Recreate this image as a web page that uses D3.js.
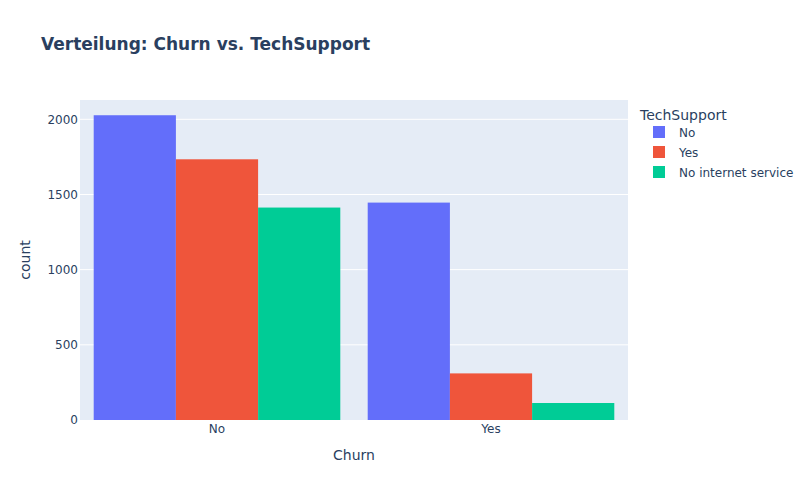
<!DOCTYPE html>
<html>
<head>
<meta charset="utf-8">
<script src="https://cdn.jsdelivr.net/npm/d3@7"></script>
<style>
  body { margin: 0; background: #fff; }
  text { font-family: "DejaVu Sans", Verdana, sans-serif; fill: #2a3f5f; }
</style>
</head>
<body>
<svg id="chart" width="811" height="500"></svg>
<script>
// Daten
const churn = ["No", "Yes"];
const techSupport = ["No", "Yes", "No internet service"];
const countNo = [2027, 1734, 1413];   // Churn = No
const countYes = [1446, 310, 113];    // Churn = Yes
const yTicks = [0, 500, 1000, 1500, 2000];
const colors = ["#636efa", "#ef553b", "#00cc96"];

const svg = d3.select("#chart");
const margin = { top: 100, right: 183, bottom: 80, left: 80 };
const innerWidth = 811 - margin.left - margin.right;
const innerHeight = 500 - margin.top - margin.bottom;

const rows = churn.map((c, i) => ({
  churn: c,
  values: (i === 0 ? countNo : countYes).map((v, j) => ({ key: techSupport[j], value: v }))
}));

const g = svg.append("g")
  .attr("transform", `translate(${margin.left},${margin.top})`);

g.append("rect")
  .attr("width", innerWidth)
  .attr("height", innerHeight)
  .attr("fill", "#e5ecf6");

const x0 = d3.scaleBand()
  .domain(churn)
  .range([0, innerWidth])
  .paddingInner(0.1)
  .paddingOuter(0.05);

const x1 = d3.scaleBand()
  .domain(techSupport)
  .range([0, x0.bandwidth()]);

const maxVal = d3.max(rows, r => d3.max(r.values, d => d.value));
const y = d3.scaleLinear()
  .domain([0, maxVal * 1.05])
  .range([innerHeight, 0]);

// Gitterlinien
g.selectAll("line.grid")
  .data(yTicks.filter(t => t > 0))
  .enter().append("line")
    .attr("x1", 0).attr("x2", innerWidth)
    .attr("y1", d => y(d)).attr("y2", d => y(d))
    .attr("stroke", "#fff")
    .attr("stroke-width", 1);

// Balken
const groups = g.selectAll("g.churn-group")
  .data(rows)
  .enter().append("g")
    .attr("transform", d => `translate(${x0(d.churn)},0)`);

groups.selectAll("rect")
  .data(d => d.values)
  .enter().append("rect")
    .attr("x", d => x1(d.key))
    .attr("y", d => y(d.value))
    .attr("width", x1.bandwidth())
    .attr("height", d => innerHeight - y(d.value))
    .attr("fill", (d, i) => colors[i]);

// Achsen
const yAxis = g.append("g")
  .call(d3.axisLeft(y).tickValues(yTicks).tickFormat(d3.format("d")).tickSize(0).tickPadding(2));
yAxis.select(".domain").remove();
yAxis.selectAll("text").attr("font-size", 12).attr("font-family", null);

const xAxis = g.append("g")
  .attr("transform", `translate(0,${innerHeight})`)
  .call(d3.axisBottom(x0).tickSize(0).tickPadding(4.5));
xAxis.select(".domain").remove();
xAxis.selectAll("text").attr("font-size", 12).attr("font-family", null);

g.append("text")
  .attr("x", innerWidth / 2)
  .attr("y", innerHeight + 40)
  .attr("text-anchor", "middle")
  .attr("font-size", 14)
  .text("Churn");

g.append("text")
  .attr("transform", "rotate(-90)")
  .attr("x", -innerHeight / 2)
  .attr("y", -50)
  .attr("text-anchor", "middle")
  .attr("font-size", 14)
  .text("count");

// Titel
svg.append("text")
  .attr("x", 41)
  .attr("y", 50)
  .attr("font-size", 17)
  .attr("font-weight", "bold")
  .text("Verteilung: Churn vs. TechSupport");

// Legende
const legend = svg.append("g")
  .attr("transform", `translate(640, 0)`);

legend.append("text")
  .attr("x", 0).attr("y", 120)
  .attr("font-size", 14)
  .text("TechSupport");

techSupport.forEach((key, i) => {
  const yOff = 132 + i * 20;
  legend.append("rect")
    .attr("x", 13).attr("y", yOff - 6)
    .attr("width", 12).attr("height", 12)
    .attr("fill", colors[i]);
  legend.append("text")
    .attr("x", 39).attr("y", yOff + 4.5)
    .attr("font-size", 12)
    .text(key);
});
</script>
</body>
</html>
